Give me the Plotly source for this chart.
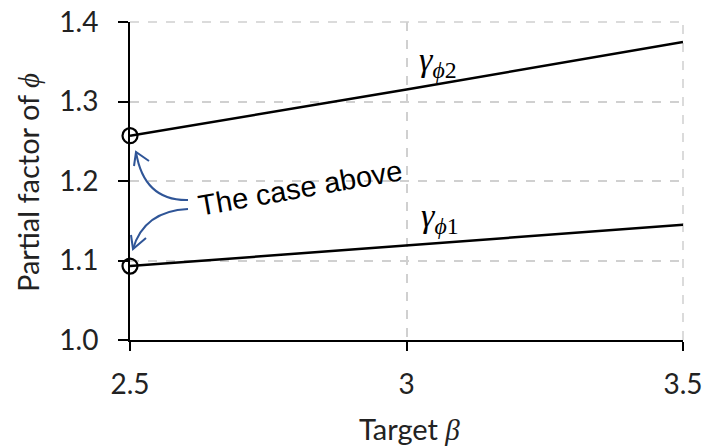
import plotly.graph_objects as go

# ---- data ----
beta = [2.5, 3.0, 3.5]
gamma_phi2 = [1.257, 1.315, 1.375]
gamma_phi1 = [1.093, 1.119, 1.145]
x_ticks = [2.5, 3.0, 3.5]
x_tick_labels = ["2.5", "3", "3.5"]
y_ticks = [1.0, 1.1, 1.2, 1.3, 1.4]
y_tick_labels = ["1.0", "1.1", "1.2", "1.3", "1.4"]

W, H = 702, 446
ML, MR, MT, MB = 130, 19, 22, 106
X0, X1 = 2.5, 3.5
Y0, Y1 = 1.0, 1.4
PW, PH = W - ML - MR, H - MT - MB

def p2d(px, py):
    x = X0 + (px - ML) / PW * (X1 - X0)
    y = Y1 - (py - MT) / PH * (Y1 - Y0)
    return x, y

def p2paper(px, py):
    return (px - ML) / PW, 1 - (py - MT) / PH

fig = go.Figure()
for ys in (gamma_phi2, gamma_phi1):
    fig.add_trace(go.Scatter(x=beta, y=ys, mode="lines",
                             line=dict(color="black", width=2.5),
                             showlegend=False, hoverinfo="skip"))
    fig.add_trace(go.Scatter(x=[beta[0]], y=[ys[0]], mode="markers",
                             marker=dict(symbol="circle-open", size=15, color="black",
                                         line=dict(width=2.2, color="black")),
                             showlegend=False, cliponaxis=False, hoverinfo="skip"))

blue = "#2F5597"
shapes = []

def curved_arrow(start, ctrl, end, left_pt, right_pt):
    s = p2d(*start); c = p2d(*ctrl); e = p2d(*end)
    path = f"M {s[0]},{s[1]} Q {c[0]},{c[1]} {e[0]},{e[1]}"
    shapes.append(dict(type="path", path=path, xref="x", yref="y",
                       line=dict(color=blue, width=2)))
    a = p2d(*left_pt); b = p2d(*right_pt)
    path2 = f"M {a[0]},{a[1]} L {e[0]},{e[1]} L {b[0]},{b[1]}"
    shapes.append(dict(type="path", path=path2, xref="x", yref="y",
                       line=dict(color=blue, width=2)))

curved_arrow((188, 200), (144, 201), (136, 152), (134, 166), (149, 161))
curved_arrow((188, 209), (144, 211), (133, 249), (131, 235), (146, 238))

# dashed top and right borders
shapes.append(dict(type="line", xref="paper", yref="paper", x0=0, x1=1, y0=1, y1=1,
                   line=dict(color="#d0d0d0", width=1.5, dash="dash"), layer="below"))
shapes.append(dict(type="line", xref="paper", yref="paper", x0=1, x1=1, y0=0, y1=1,
                   line=dict(color="#d0d0d0", width=1.5, dash="dash"), layer="below"))

annotations = []
tx, ty = p2d(300, 188)
annotations.append(dict(x=tx, y=ty, xref="x", yref="y", text="The case above",
                        showarrow=False, textangle=-10,
                        font=dict(family="Liberation Sans, Arial", size=29, color="black")))
gx, gy = p2d(438, 62)
annotations.append(dict(x=gx, y=gy, xref="x", yref="y",
                        text="<i>γ</i><sub><i>ϕ</i>2</sub>", showarrow=False,
                        font=dict(family="Liberation Serif, Times New Roman", size=34, color="black")))
gx, gy = p2d(440, 218)
annotations.append(dict(x=gx, y=gy, xref="x", yref="y",
                        text="<i>γ</i><sub><i>ϕ</i>1</sub>", showarrow=False,
                        font=dict(family="Liberation Serif, Times New Roman", size=34, color="black")))

titlefont = dict(family="Lato, Open Sans", size=29, color="#222")
serif = "font-family:'Liberation Serif','Times New Roman',serif"
ax_, ay_ = p2paper(409, 428)
annotations.append(dict(x=ax_, y=ay_, xref="paper", yref="paper",
                        text=f"Target <span style=\"{serif}\"><i>β</i></span>",
                        showarrow=False, font=titlefont, xanchor="center", yanchor="middle"))
ax_, ay_ = p2paper(27, 182)
annotations.append(dict(x=ax_, y=ay_, xref="paper", yref="paper",
                        text=f"Partial factor of <span style=\"{serif}\"><i>ϕ</i></span>",
                        showarrow=False, font=titlefont, textangle=-90,
                        xanchor="center", yanchor="middle"))

tickfont = dict(family="Lato, Open Sans", size=28, color="#222")
fig.update_layout(
    width=W, height=H,
    margin=dict(l=ML, r=MR, t=MT, b=MB, autoexpand=False),
    paper_bgcolor="white", plot_bgcolor="white",
    shapes=shapes, annotations=annotations,
    xaxis=dict(range=[X0, X1], tickvals=x_ticks, ticktext=x_tick_labels,
               showline=True, linecolor="black", linewidth=2,
               ticks="outside", ticklen=9, tickwidth=2, tickcolor="black",
               showgrid=True, gridcolor="#d0d0d0", griddash="dash", gridwidth=1.5,
               zeroline=False, tickfont=tickfont, ticklabelstandoff=9,
               ticklabeloverflow="allow", automargin=False),
    yaxis=dict(range=[Y0, Y1], tickvals=y_ticks, ticktext=y_tick_labels,
               showline=True, linecolor="black", linewidth=2,
               ticks="outside", ticklen=10, tickwidth=2, tickcolor="black",
               showgrid=True, gridcolor="#d0d0d0", griddash="dash", gridwidth=1.5,
               zeroline=False, tickfont=tickfont, ticklabelstandoff=14,
               ticklabeloverflow="allow", automargin=False),
)

fig.write_html("out.html", config={"displayModeBar": False},
               post_script="document.body.style.margin='0';document.body.style.overflow='hidden';")
